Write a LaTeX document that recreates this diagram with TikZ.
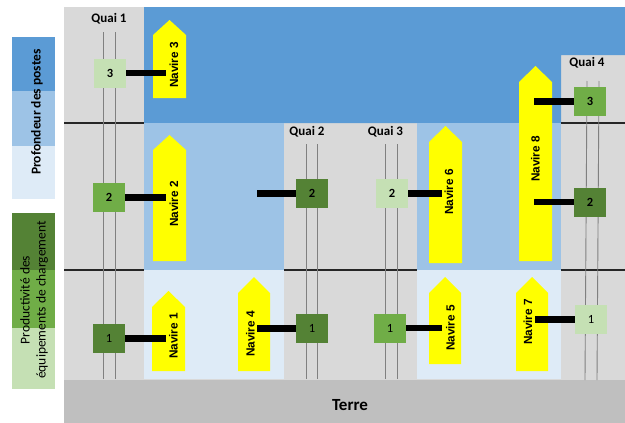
\documentclass[tikz,border=0pt]{standalone}
\usepackage{fontspec}
\setmainfont{Carlito}
\newfontfamily\arialfont{Liberation Sans}
\usepackage{xcolor}
\usepackage{tikz}
\definecolor{bleufonce}{RGB}{91,155,213}
\definecolor{bleumoyen}{RGB}{157,195,230}
\definecolor{bleuclair}{RGB}{222,235,247}
\definecolor{vertfonce}{RGB}{84,130,53}
\definecolor{vertmoyen}{RGB}{112,173,71}
\definecolor{vertclair}{RGB}{197,224,180}
\definecolor{quaigris}{RGB}{217,217,217}
\definecolor{terregris}{RGB}{191,191,191}
\definecolor{railgris}{RGB}{128,128,128}
\definecolor{navjaune}{RGB}{255,255,0}

\begin{document}
\begin{tikzpicture}[x=1pt,y=-1pt,
	grue/.style={minimum width=32pt,minimum height=29pt,inner sep=0pt,font=\fontsize{12.5}{14}\selectfont},
	barre/.style={line width=6.5pt},
	rail/.style={draw=railgris,line width=0.9pt},
	limite/.style={draw=black!85,line width=1.2pt},
	quai/.style={anchor=base,font=\bfseries\fontsize{13}{15}\selectfont},
	nom/.style={rotate=90,inner sep=0pt,font=\arialfont\bfseries\fontsize{11.8}{13}\selectfont}]
						\useasboundingbox (0,0) rectangle (625,423);
						
						\fill[quaigris] (64,7) rectangle (625,380);
						\fill[terregris] (64,380) rectangle (625,423);
						\fill[bleufonce] (144,7) -- (625,7) -- (625,55) -- (561,55) -- (561,123) -- (144,123) -- cycle;
						\fill[bleumoyen] (144,123) rectangle (284,270);
						\fill[bleumoyen] (417,123) rectangle (561,270);
						\fill[bleuclair] (144,270) rectangle (284,379);
						\fill[bleuclair] (417,270) rectangle (561,379);
						
						\draw[limite] (64,123) -- (144,123);
						\draw[limite] (561,123) -- (625,123);
						\draw[limite] (64,270) -- (144,270);
						\draw[limite] (284,270) -- (417,270);
						\draw[limite] (561,270) -- (625,270);
						
						\draw[rail] (103,32) -- (103,379);
						\draw[rail] (115,32) -- (115,379);
						\draw[rail] (306,144) -- (306,379);
						\draw[rail] (317,144) -- (317,379);
						\draw[rail] (385,144) -- (385,379);
						\draw[rail] (397,144) -- (397,379);
						\draw[rail] (587,81) -- (585,380);
						\draw[rail] (599,81) -- (597,380);
						
						\node[quai] (T1) at (109,23) {Quai 1};
						\node[quai] (T2) at (307,135.5) {Quai 2};
						\node[quai] (T3) at (385.5,135.5) {Quai 3};
						\node[quai] (T4) at (587,66.5) {Quai 4};
						
						\fill[navjaune] (153,98) -- (153,35) -- (169.5,20) -- (186,35) -- (186,98) -- cycle;
						\fill[navjaune] (153,261) -- (153,150) -- (169.5,135) -- (186,150) -- (186,261) -- cycle;
						\fill[navjaune] (152,371) -- (152,307) -- (168.5,291) -- (185,307) -- (185,371) -- cycle;
						\fill[navjaune] (238,371) -- (238,293) -- (254,277) -- (270,293) -- (270,371) -- cycle;
						\fill[navjaune] (429,263) -- (429,142) -- (445.5,126) -- (462,142) -- (462,263) -- cycle;
						\fill[navjaune] (429,364) -- (429,293) -- (445,277) -- (461,293) -- (461,364) -- cycle;
						\fill[navjaune] (519,261) -- (519,82) -- (535.5,66) -- (552,82) -- (552,261) -- cycle;
						\fill[navjaune] (516,371) -- (516,293) -- (532,277) -- (548,293) -- (548,371) -- cycle;
						
						\node[grue,fill=vertclair] (Q13) at (110,73) {\bfseries 3};
						\node[grue,fill=vertmoyen] (Q12) at (109,197.5) {\bfseries 2};
						\node[grue,fill=vertfonce] (Q11) at (109,338.5) {1};
						\node[grue,fill=vertfonce] (Q22) at (312,193.5) {\bfseries 2};
						\node[grue,fill=vertfonce] (Q21) at (312,328.5) {1};
						\node[grue,fill=vertclair] (Q32) at (392,193.5) {\bfseries 2};
						\node[grue,fill=vertmoyen] (Q31) at (390,328) {1};
						\node[grue,fill=vertmoyen] (Q43) at (590,101.5) {\bfseries 3};
						\node[grue,fill=vertfonce] (Q42) at (590,202) {\bfseries 2};
						\node[grue,fill=vertclair] (Q41) at (591,319.5) {1};
						
						\coordinate (B13) at (166,73);
						\coordinate (B12) at (166,197.5);
						\coordinate (B11) at (166,338.5);
						\coordinate (B22) at (257,193.5);
						\coordinate (B21) at (257,328.5);
						\coordinate (B32) at (442,193.5);
						\coordinate (B31) at (442,328);
						\coordinate (B43) at (534,101.5);
						\coordinate (B42) at (534,202);
						\coordinate (B41) at (535,319.5);
						
						\draw[barre] (Q13) -- (B13);
						\draw[barre] (Q12) -- (B12);
						\draw[barre] (Q11) -- (B11);
						\draw[barre] (Q22) -- (B22);
						\draw[barre] (Q21) -- (B21);
						\draw[barre] (Q32) -- (B32);
						\draw[barre] (Q31) -- (B31);
						\draw[barre] (Q43) -- (B43);
						\draw[barre] (Q42) -- (B42);
						\draw[barre] (Q41) -- (B41);
						
						\node[nom] (N3) at (174,65) {Navire 3};
						\node[nom] (N2) at (174,204) {Navire 2};
						\node[nom] (N1) at (173.5,336) {Navire 1};
						\node[nom] (N4) at (250.5,334) {Navire 4};
						\node[nom] (N6) at (449,192) {Navire 6};
						\node[nom] (N5) at (450.5,328) {Navire 5};
						\node[nom] (N8) at (535.5,159) {Navire 8};
						\node[nom] (N7) at (528,322) {Navire 7};
						
						\node[anchor=base,font=\bfseries\fontsize{17}{20}\selectfont] (TR) at (350,410) {Terre};
						
						\fill[bleufonce] (12,37) rectangle (55,91);
						\fill[bleumoyen] (12,91) rectangle (55,146);
						\fill[bleuclair] (12,146) rectangle (55,199);
						\fill[vertfonce] (12,213) rectangle (55,270);
						\fill[vertmoyen] (12,270) rectangle (55,328);
						\fill[vertclair] (12,328) rectangle (55,389);
						\node[rotate=90,font=\bfseries\fontsize{13.5}{16}\selectfont] (LP) at (37,112) {Profondeur des postes};
						\node[rotate=90,align=center,font=\fontsize{13.5}{16}\selectfont] (LE) at (34,300) {Productivité des\\équipements de chargement};
					\end{tikzpicture}
\end{document}
